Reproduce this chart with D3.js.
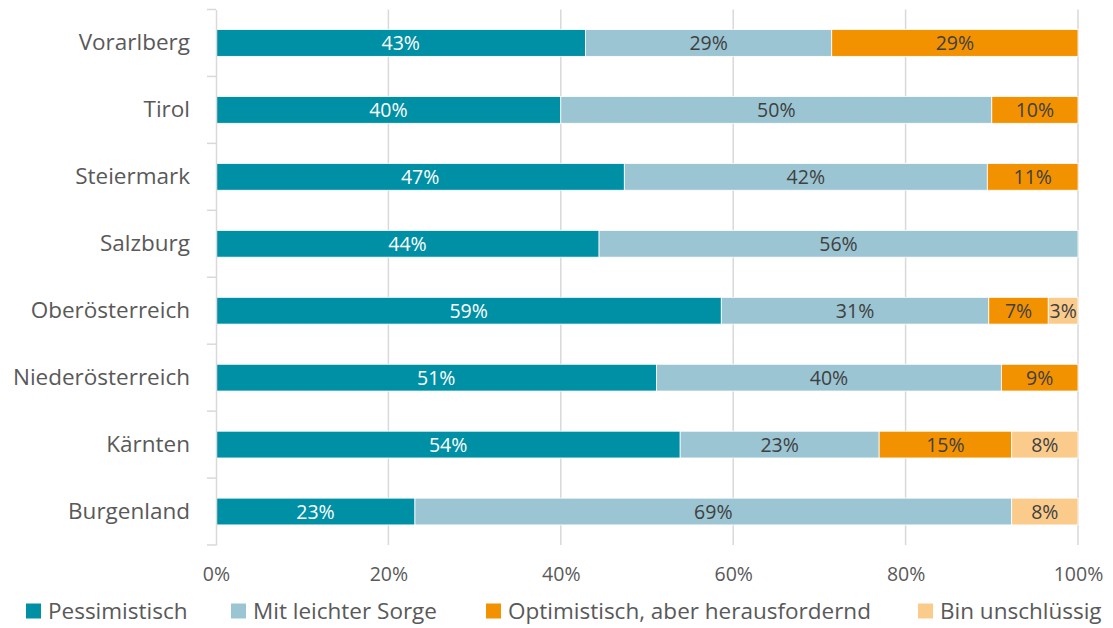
<!DOCTYPE html>
<html>
<head>
<meta charset="utf-8">
<script src="https://cdn.jsdelivr.net/npm/d3@7"></script>
<style>
  html, body { margin: 0; padding: 0; background: #ffffff; }
  svg { display: block; font-family: "Open Sans", "Lato", sans-serif; }
</style>
</head>
<body>
<svg id="chart" width="1113" height="628"></svg>
<script>
// Regions, top to bottom
const regions = ["Vorarlberg", "Tirol", "Steiermark", "Salzburg", "Oberösterreich", "Niederösterreich", "Kärnten", "Burgenland"];

// Share of answers per region (percent)
const pessimistisch   = [42.86, 40.00, 47.37, 44.44, 58.62, 51.11, 53.85, 23.08];
const leichteSorge    = [28.57, 50.00, 42.11, 55.56, 31.03, 40.00, 23.08, 69.23];
const optimistisch    = [28.57, 10.00, 10.53,  0.00,  6.90,  8.89, 15.38,  0.00];
const unschluessig    = [ 0.00,  0.00,  0.00,  0.00,  3.45,  0.00,  7.69,  7.69];

const seriesNames  = ["Pessimistisch", "Mit leichter Sorge", "Optimistisch, aber herausfordernd", "Bin unschlüssig"];
const seriesColors = ["#0090a5", "#9bc5d3", "#f39200", "#fbcb8c"];
const labelColors  = ["#ffffff", "#404040", "#404040", "#404040"];
const tickValues   = [0, 20, 40, 60, 80, 100];

const seriesValues = [pessimistisch, leichteSorge, optimistisch, unschluessig];
const rows = regions.map((r, i) => {
  const o = { region: r };
  seriesNames.forEach((s, k) => { o[s] = seriesValues[k][i]; });
  return o;
});

const svg = d3.select("#chart");
const margin = { left: 216, right: 35, top: 9.5, bottom: 83 };
const W = 1113, H = 628;

const x = d3.scaleLinear().domain([0, 100]).range([margin.left, W - margin.right]);
const y = d3.scaleBand().domain(regions).range([margin.top, H - margin.bottom]).paddingInner(0.6).paddingOuter(0.3);

// vertical gridlines
svg.append("g")
  .selectAll("line")
  .data(tickValues.slice(1))
  .join("line")
  .attr("x1", d => x(d)).attr("x2", d => x(d))
  .attr("y1", margin.top).attr("y2", H - margin.bottom)
  .attr("stroke", "#d9d9d9").attr("stroke-width", 1.5);

// stacked bars
const stack = d3.stack().keys(seriesNames)(rows);
const fmt = d3.format(".0f");

const layers = svg.append("g").selectAll("g")
  .data(stack)
  .join("g")
  .attr("fill", (d, i) => seriesColors[i]);

layers.selectAll("rect")
  .data(d => d.filter(p => p[1] - p[0] > 0))
  .join("rect")
  .attr("x", p => x(p[0]))
  .attr("width", p => x(p[1]) - x(p[0]))
  .attr("y", p => y(p.data.region))
  .attr("height", y.bandwidth())
  .attr("stroke", "#ffffff")
  .attr("stroke-width", 0.8);

// value labels
stack.forEach((layer, i) => {
  svg.append("g").selectAll("text")
    .data(layer.filter(p => p[1] - p[0] > 0))
    .join("text")
    .attr("x", p => (x(p[0]) + x(p[1])) / 2)
    .attr("y", p => y(p.data.region) + y.bandwidth() / 2)
    .attr("dy", "0.36em")
    .attr("text-anchor", "middle")
    .attr("fill", labelColors[i])
    .attr("font-size", 19.5)
    .text(p => fmt(p[1] - p[0]) + "%");
});

// category axis
const yAxis = d3.axisLeft(y).tickSize(0).tickPadding(26);
const ya = svg.append("g").attr("transform", `translate(${margin.left},0)`).call(yAxis);
ya.select(".domain").attr("stroke", "#d9d9d9").attr("stroke-width", 1.5);
ya.selectAll("text").attr("font-size", 22.5).attr("fill", "#595959").attr("font-family", "'Open Sans', Lato, sans-serif");

// category separator ticks
const edges = regions.map((r, i) => margin.top + i * (H - margin.bottom - margin.top) / regions.length).concat([H - margin.bottom]);
svg.append("g").selectAll("line")
  .data(edges)
  .join("line")
  .attr("x1", margin.left - 9).attr("x2", margin.left)
  .attr("y1", d => d).attr("y2", d => d)
  .attr("stroke", "#d9d9d9").attr("stroke-width", 1.5);

// percent axis labels
const xAxis = d3.axisBottom(x).tickValues(tickValues).tickSize(0).tickPadding(0).tickFormat(d => d + "%");
const xa = svg.append("g").attr("transform", `translate(0,${H - margin.bottom + 22})`).call(xAxis);
xa.select(".domain").remove();
xa.selectAll("text").attr("font-size", 19.5).attr("fill", "#595959").attr("font-family", "'Open Sans', Lato, sans-serif");

// legend
const legendX = [26, 231, 486, 918];
const legend = svg.append("g").attr("transform", "translate(0,611)");
seriesNames.forEach((s, i) => {
  legend.append("rect")
    .attr("x", legendX[i]).attr("y", -7.5).attr("width", 15).attr("height", 15)
    .attr("fill", seriesColors[i]);
  legend.append("text")
    .attr("x", legendX[i] + 22).attr("y", 0).attr("dy", "0.36em")
    .attr("font-size", 22.5).attr("fill", "#595959")
    .text(s);
});
</script>
</body>
</html>
